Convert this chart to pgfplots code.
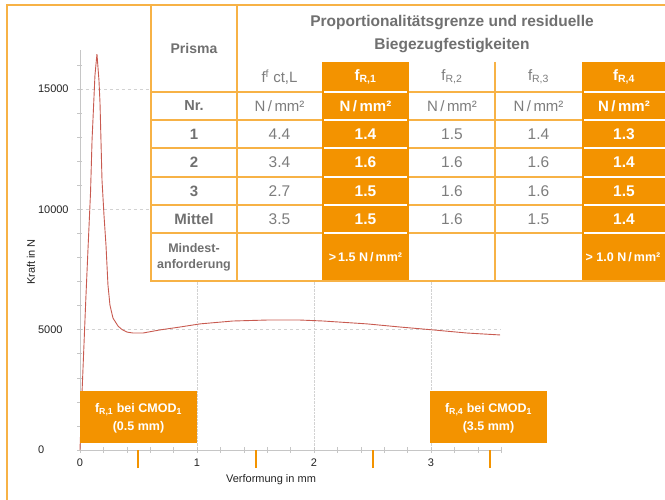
\documentclass[border=0pt]{standalone}
\usepackage{fontspec}
\setmainfont{Liberation Sans}
\usepackage{pgfplots}
\pgfplotsset{compat=1.18}
\definecolor{orangefill}{RGB}{243,147,0}
\definecolor{orangeline}{RGB}{247,178,70}
\definecolor{hgray}{RGB}{112,112,112}
\definecolor{vgray}{RGB}{125,125,125}
\definecolor{tickgray}{RGB}{35,35,35}
\definecolor{curvecol}{RGB}{200,90,80}
\newcommand{\fs}[1]{\fontsize{#1}{#1}\selectfont}
\begin{document}
\begin{tikzpicture}[x=1pt,y=1pt]
\useasboundingbox (0,0) rectangle (665,499);
\begin{axis}[
  at={(80pt,49pt)}, anchor=south west,
  scale only axis, width=421.2pt, height=400pt,
  xmin=0, xmax=3.6, ymin=0, ymax=16620,
  axis x line=bottom, axis y line=left,
  axis line style={-, draw=gray!45, line width=0.6pt},
  xtick={0,1,2,3}, ytick={0,5000,10000,15000},
  scaled y ticks=false,
  minor xtick={0.2,0.4,0.6,0.8,1.2,1.4,1.6,1.8,2.2,2.4,2.6,2.8,3.2,3.4,3.6},
  minor ytick={1000,2000,3000,4000,6000,7000,8000,9000,11000,12000,13000,14000,16000},
  tick align=center,
  major tick length=5pt, minor tick length=5pt,
  tick style={draw=gray!45, line width=0.5pt},
  ymajorgrids, xmajorgrids,
  y grid style={dashed, gray!35, line width=0.6pt},
  x grid style={densely dotted, gray!35, line width=0.6pt},
  ticklabel style={font=\fs{11}, text=tickgray},
  /pgf/number format/assume math mode=true,
  /pgf/number format/1000 sep={},
  yticklabel style={anchor=west, xshift=-43pt},
  xticklabel style={yshift=-3pt},
  extra x ticks={0.5,1.5,2.5,3.5},
  extra x tick labels={},
  extra x tick style={grid=none, tick align=outside, major tick length=18pt, tick style={draw=orangefill, line width=2pt}},
  clip=false,
]
\addplot[curvecol, line width=0.9pt] coordinates {
(0,0) (0.015,2100) (0.030,3900) (0.050,6300) (0.068,8310) (0.090,10700) (0.103,12880) (0.128,15580) (0.145,16450)
(0.162,15370) (0.171,14420) (0.188,11220) (0.205,9760) (0.222,8520) (0.239,6860) (0.256,6020)
(0.282,5480) (0.325,5150) (0.360,5000) (0.402,4900) (0.453,4860) (0.538,4860) (0.684,4990)
(0.855,5110) (1.026,5240) (1.308,5360) (1.598,5400) (1.880,5400) (2.077,5360) (2.453,5240)
(2.735,5110) (3.017,4990) (3.308,4860) (3.590,4780)};
\end{axis}
\begin{scope}[shift={(0,499)}, yscale=-1]
  % frame
  \draw[orangeline, line width=1.4pt] (7,505) -- (7,5) -- (672,5);
  % table
  \fill[white] (151,5) rectangle (669,281);
  \fill[orangefill] (322,62) rectangle (409,281);
  \fill[orangefill] (582,62) rectangle (669,281);
  \begin{scope}[orangeline, line width=1.5pt]
    \draw (151,5) -- (151,281) -- (669,281);
    \draw (151,5) -- (669,5);
    \draw (237,5) -- (237,281);
    \draw (495,62) -- (495,281);
    \foreach \y in {92,120,148,177,205,233} {
      \draw (151,\y) -- (322,\y);
      \draw (409,\y) -- (582,\y);
    }
  \end{scope}
  \begin{scope}[white, line width=1.5pt]
    \foreach \y in {92,120,148,177,205,233} {
      \draw (324,\y) -- (407,\y);
      \draw (584,\y) -- (669,\y);
    }
  \end{scope}
  % header texts
  \node[font=\bfseries\fs{14}, text=hgray] at (194,48) {Prisma};
  \node[font=\bfseries\fontsize{15.5}{23}\selectfont, text=hgray, align=center] at (452,34) {Proportionalitätsgrenze und residuelle\\Biegezugfestigkeiten};
  \node[font=\fs{15}, text=vgray] at (279.5,77) {f\textsuperscript{f} ct,L};
  \node[font=\bfseries\fs{15}, text=white] at (365.5,77) {f\textsubscript{R,1}};
  \node[font=\fs{15}, text=vgray] at (452,77) {f\textsubscript{R,2}};
  \node[font=\fs{15}, text=vgray] at (538.5,77) {f\textsubscript{R,3}};
  \node[font=\bfseries\fs{15}, text=white] at (624,77) {f\textsubscript{R,4}};
  % units row
  \node[font=\bfseries\fs{14.5}, text=hgray] at (194,106) {Nr.};
  \node[font=\fs{15}, text=vgray] at (279.5,106) {N\,/\,mm²};
  \node[font=\bfseries\fs{15}, text=white] at (365.5,106) {N\,/\,mm²};
  \node[font=\fs{15}, text=vgray] at (452,106) {N\,/\,mm²};
  \node[font=\fs{15}, text=vgray] at (538.5,106) {N\,/\,mm²};
  \node[font=\bfseries\fs{15}, text=white] at (624,106) {N\,/\,mm²};
  % data rows
  \foreach \yy/\lab/\a/\b/\c/\d/\e in {134/1/4.4/1.4/1.5/1.4/1.3, 162.5/2/3.4/1.6/1.6/1.6/1.4, 191/3/2.7/1.5/1.6/1.6/1.5, 219/Mittel/3.5/1.5/1.6/1.5/1.4} {
    \node[font=\bfseries\fs{15}, text=hgray] at (194,\yy) {\lab};
    \node[font=\fs{15.5}, text=vgray] at (279.5,\yy) {\a};
    \node[font=\bfseries\fs{15.5}, text=white] at (365.5,\yy) {\b};
    \node[font=\fs{15.5}, text=vgray] at (452,\yy) {\c};
    \node[font=\fs{15.5}, text=vgray] at (538.5,\yy) {\d};
    \node[font=\bfseries\fs{15.5}, text=white] at (624,\yy) {\e};
  }
  \node[font=\bfseries\fontsize{12.5}{16}\selectfont, text=hgray, align=center] at (194,257) {Mindest-\\anforderung};
  \node[font=\bfseries\fs{12.5}, text=white] at (365.5,257) {>\,1.5 N\,/\,mm²};
  \node[font=\bfseries\fs{12.5}, text=white] at (623,257) {> 1.0 N\,/\,mm²};
  % boxes
  \fill[orangefill] (80,391) rectangle (197,443);
  \fill[orangefill] (430,391) rectangle (547,443);
  \node[font=\bfseries\fontsize{12.5}{18}\selectfont, text=white, align=center] at (138.5,418) {f\textsubscript{R,1} bei CMOD\textsubscript{1}\\(0.5 mm)};
  \node[font=\bfseries\fontsize{12.5}{18}\selectfont, text=white, align=center] at (488.5,418) {f\textsubscript{R,4} bei CMOD\textsubscript{1}\\(3.5 mm)};
  % axis labels
  \node[font=\fs{11}, text=tickgray, rotate=90] at (31,262) {Kraft in N};
  \node[font=\fs{11}, text=tickgray] at (271,480) {Verformung in mm};
\end{scope}
\end{tikzpicture}
\end{document}
